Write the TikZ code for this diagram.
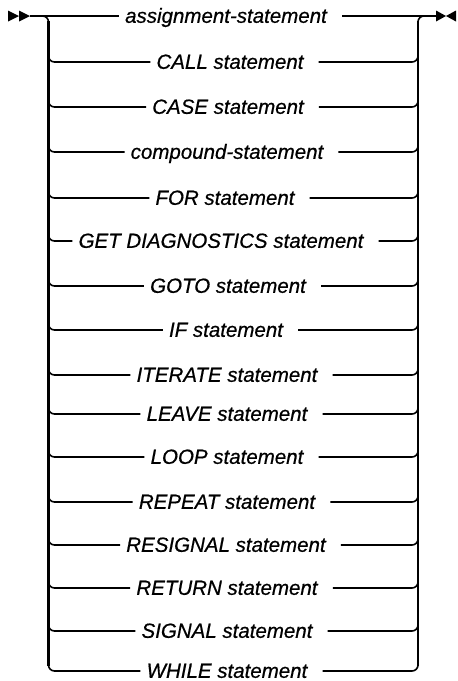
\documentclass[tikz,border=0pt]{standalone}
\usepackage{fontspec}
\setmainfont{Liberation Sans}
\newfontfamily\lblfont{Liberation Sans Italic}[FakeBold=0.6]
\begin{document}
\begin{tikzpicture}[x=1pt,y=-1pt,
  hline/.style={line width=1.6pt},
  vline/.style={line width=2.6pt},
  lbl/.style={font=\fontsize{20.5}{24}\lblfont, inner sep=0pt, anchor=base},
  tipfill/.style={fill=black}]
\useasboundingbox (0,0) rectangle (458,681);
% start and end marks
\fill[tipfill] (8,10.5) -- (19,16) -- (8,21.5) -- cycle;
\fill[tipfill] (19,10.5) -- (30,16) -- (19,21.5) -- cycle;
\fill[tipfill] (436,10.5) -- (446,16) -- (436,21.5) -- cycle;
\fill[tipfill] (456,10.5) -- (446,16) -- (456,21.5) -- cycle;
\coordinate (start) at (30,16);
\coordinate (finish) at (436,16);
% rows
\foreach \i/\y/\c/\t in {
  1/16/226/assignment-statement,
  2/62/230/CALL statement,
  3/107/228/CASE statement,
  4/152/227/compound-statement,
  5/198/225/FOR statement,
  6/241/221/GET DIAGNOSTICS statement,
  7/286/228/GOTO statement,
  8/330/226/IF statement,
  9/375/227/ITERATE statement,
  10/414/227/LEAVE statement,
  11/457/227/LOOP statement,
  12/502/227/REPEAT statement,
  13/545/226/RESIGNAL statement,
  14/588/227/RETURN statement,
  15/631/227/SIGNAL statement,
  16/671/227/WHILE statement}{
  \node[lbl] (t\i) at (\c,\y+6.8) {\t};
  \coordinate (lw\i) at ([xshift=-6pt]t\i.west |- 0,\y);
  \coordinate (le\i) at ([xshift=15pt]t\i.east |- 0,\y);
  \coordinate (lc\i) at (48.5,\y-10);
  \coordinate (rc\i) at (418,\y-10);
}
% main line
\draw[hline] (start) -- (lw1);
\draw[hline] (le1) -- (finish);
% verticals
\draw[vline] (48.5,21) -- (48.5,666);
\draw[vline] (418,21) -- (418,666);
\draw[hline,rounded corners=6pt] (40,16) -| (48.5,26);
\draw[hline,rounded corners=6pt] (418,26) |- (426,16);
\foreach \i in {2,...,16}{
  \draw[hline,rounded corners=6pt] (lc\i) |- (lw\i);
  \draw[hline,rounded corners=6pt] (le\i) -| (rc\i);
}
\end{tikzpicture}
\end{document}
